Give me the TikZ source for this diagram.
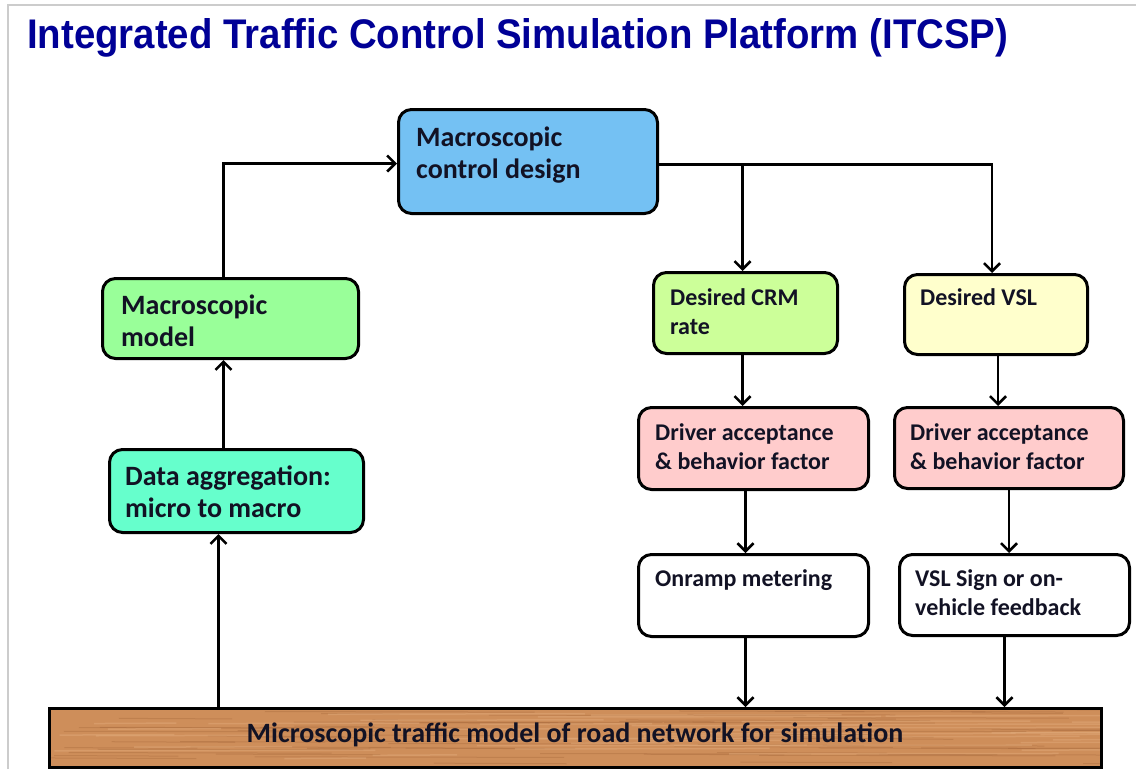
\documentclass[tikz,border=0pt]{standalone}
\usepackage{fontspec}
\setmainfont{Carlito}
\newfontfamily\titlefont{Liberation Sans}
\usetikzlibrary{arrows.meta}

\definecolor{titleblue}{RGB}{0,0,150}
\definecolor{ctrlblue}{RGB}{116,193,243}
\definecolor{modelgreen}{RGB}{153,255,153}
\definecolor{aggraqua}{RGB}{102,255,204}
\definecolor{crmgreen}{RGB}{204,255,153}
\definecolor{vslyellow}{RGB}{255,255,204}
\definecolor{drvpink}{RGB}{255,204,204}
\definecolor{wood}{RGB}{206,142,90}
\definecolor{woodgrain}{RGB}{165,102,58}
\definecolor{woodlight}{RGB}{226,172,124}
\definecolor{inktext}{RGB}{18,18,36}

\tikzset{
  box/.style={draw=black, line width=3pt, rounded corners=13pt, anchor=north west, inner sep=0pt},
  bigtext/.style={anchor=base west, inner sep=0pt, align=left, text=inktext,
    font=\fontsize{28}{32}\selectfont\bfseries},
  smalltext/.style={anchor=base west, inner sep=0pt, align=left, text=inktext,
    font=\fontsize{24}{29}\selectfont\bfseries},
  flow/.style={line width=2.8pt, -{Straight Barb[length=8pt, width=16pt, line width=2.6pt]}},
}

\begin{document}
\begin{tikzpicture}[x=1pt, y=-1pt]
  \useasboundingbox (0,0) rectangle (1136,769);
  % frame
  \draw[black!20, line width=2pt] (8,769) -- (8,5) -- (1136,5);
  % title
  \node[anchor=base west, inner sep=0pt, text=titleblue] (title) at (27,48)
    {\resizebox{981pt}{30pt}{\titlefont\bfseries Integrated Traffic Control Simulation Platform (ITCSP)}};

  % boxes
  \node[box, fill=ctrlblue,   minimum width=259pt, minimum height=104pt] (ctrl)   at (397,108) {};
  \node[box, fill=modelgreen, minimum width=256pt, minimum height=80pt]  (macro)  at (101,277) {};
  \node[box, fill=aggraqua,   minimum width=254pt, minimum height=83pt]  (aggr)   at (108,448) {};
  \node[box, fill=crmgreen,   minimum width=184pt, minimum height=81pt]  (crm)    at (652,271) {};
  \node[box, fill=vslyellow,  minimum width=183pt, minimum height=80pt]  (vsl)    at (903,273) {};
  \node[box, fill=drvpink,    minimum width=230pt, minimum height=82pt]  (drvA)   at (637,406) {};
  \node[box, fill=drvpink,    minimum width=229pt, minimum height=81pt]  (drvB)   at (893,406) {};
  \node[box, fill=white,      minimum width=230pt, minimum height=82pt]  (onramp) at (637,553) {};
  \node[box, fill=white,      minimum width=230pt, minimum height=81pt]  (sign)   at (898,553) {};

  % texts (base = last line)
  \node[bigtext]   (ctrl-txt)   at (416,178) {Macroscopic\\control design};
  \node[bigtext]   (macro-txt)  at (121,346) {Macroscopic\\model};
  \node[bigtext]   (aggr-txt)   at (125,517) {Data aggregation:\\micro to macro};
  \node[smalltext] (crm-txt)    at (670,334) {Desired CRM\\rate};
  \node[smalltext] (vsl-txt)    at (920,305) {Desired VSL};
  \node[smalltext] (drvA-txt)   at (655,469) {Driver acceptance\\\& behavior factor};
  \node[smalltext] (drvB-txt)   at (910,469) {Driver acceptance\\\& behavior factor};
  \node[smalltext] (onramp-txt) at (655,586) {Onramp metering};
  \node[smalltext] (sign-txt)   at (915,615) {VSL Sign or on-\\vehicle feedback};

  % road network bar
  \fill[black!35] (51,710) rectangle (1103,769);
  \begin{scope}
    \clip (48,707) rectangle (1100,766);
    \fill[wood] (48,707) rectangle (1100,766);
    \pgfmathsetseed{11}
    \foreach \i in {1,...,70}{
      \pgfmathsetmacro{\gx}{48+rnd*1052}
      \pgfmathsetmacro{\gy}{709+rnd*56}
      \pgfmathsetmacro{\gl}{60+rnd*260}
      \draw[woodgrain, opacity=0.35, line width=1pt] (\gx,\gy) -- ++(\gl,0.6);
    }
    \foreach \i in {1,...,40}{
      \pgfmathsetmacro{\gx}{48+rnd*1052}
      \pgfmathsetmacro{\gy}{709+rnd*56}
      \pgfmathsetmacro{\gl}{80+rnd*300}
      \draw[woodlight, opacity=0.45, line width=1.5pt] (\gx,\gy) -- ++(\gl,-0.5);
    }
  \end{scope}
  \node[draw=black, line width=3pt, anchor=north west, inner sep=0pt,
        minimum width=1052pt, minimum height=59pt] (road) at (48,707) {};
  \node[font=\fontsize{28}{32}\selectfont\bfseries, text=inktext, anchor=base] (road-txt)
    at (575,742) {Microscopic traffic model of road network for simulation};

  % connectors
  \coordinate (up) at ([xshift=-18pt]aggr.south);
  \draw[flow] (road.north -| up) -- (up);
  \draw[flow] ([xshift=-13pt]aggr.north) -- ([xshift=-7pt]macro.south);
  \draw[flow] ([xshift=-7pt]macro.north) |- ([yshift=-2pt]ctrl.west);
  \draw[flow] ([yshift=-3pt]ctrl.east) -| ([xshift=-3pt]crm.north);
  \draw[flow] ([yshift=-3pt]ctrl.east) -| ([xshift=-4pt]vsl.north);
  \draw[flow] ([xshift=-3pt]crm.south) -- ([xshift=-3pt]crm.south |- drvA.north);
  \draw[flow] ([xshift=-8pt]drvA.south) -- ([xshift=-8pt]onramp.north);
  \draw[flow] ([xshift=-8pt]onramp.south) -- ([xshift=-8pt]onramp.south |- road.north);
  \draw[flow] ([xshift=2pt]vsl.south) -- ([xshift=2pt]vsl.south |- drvB.north);
  \draw[flow] (drvB.south) -- (drvB.south |- sign.north);
  \draw[flow] ([xshift=-10pt]sign.south) -- ([xshift=-10pt]sign.south |- road.north);
\end{tikzpicture}
\end{document}
